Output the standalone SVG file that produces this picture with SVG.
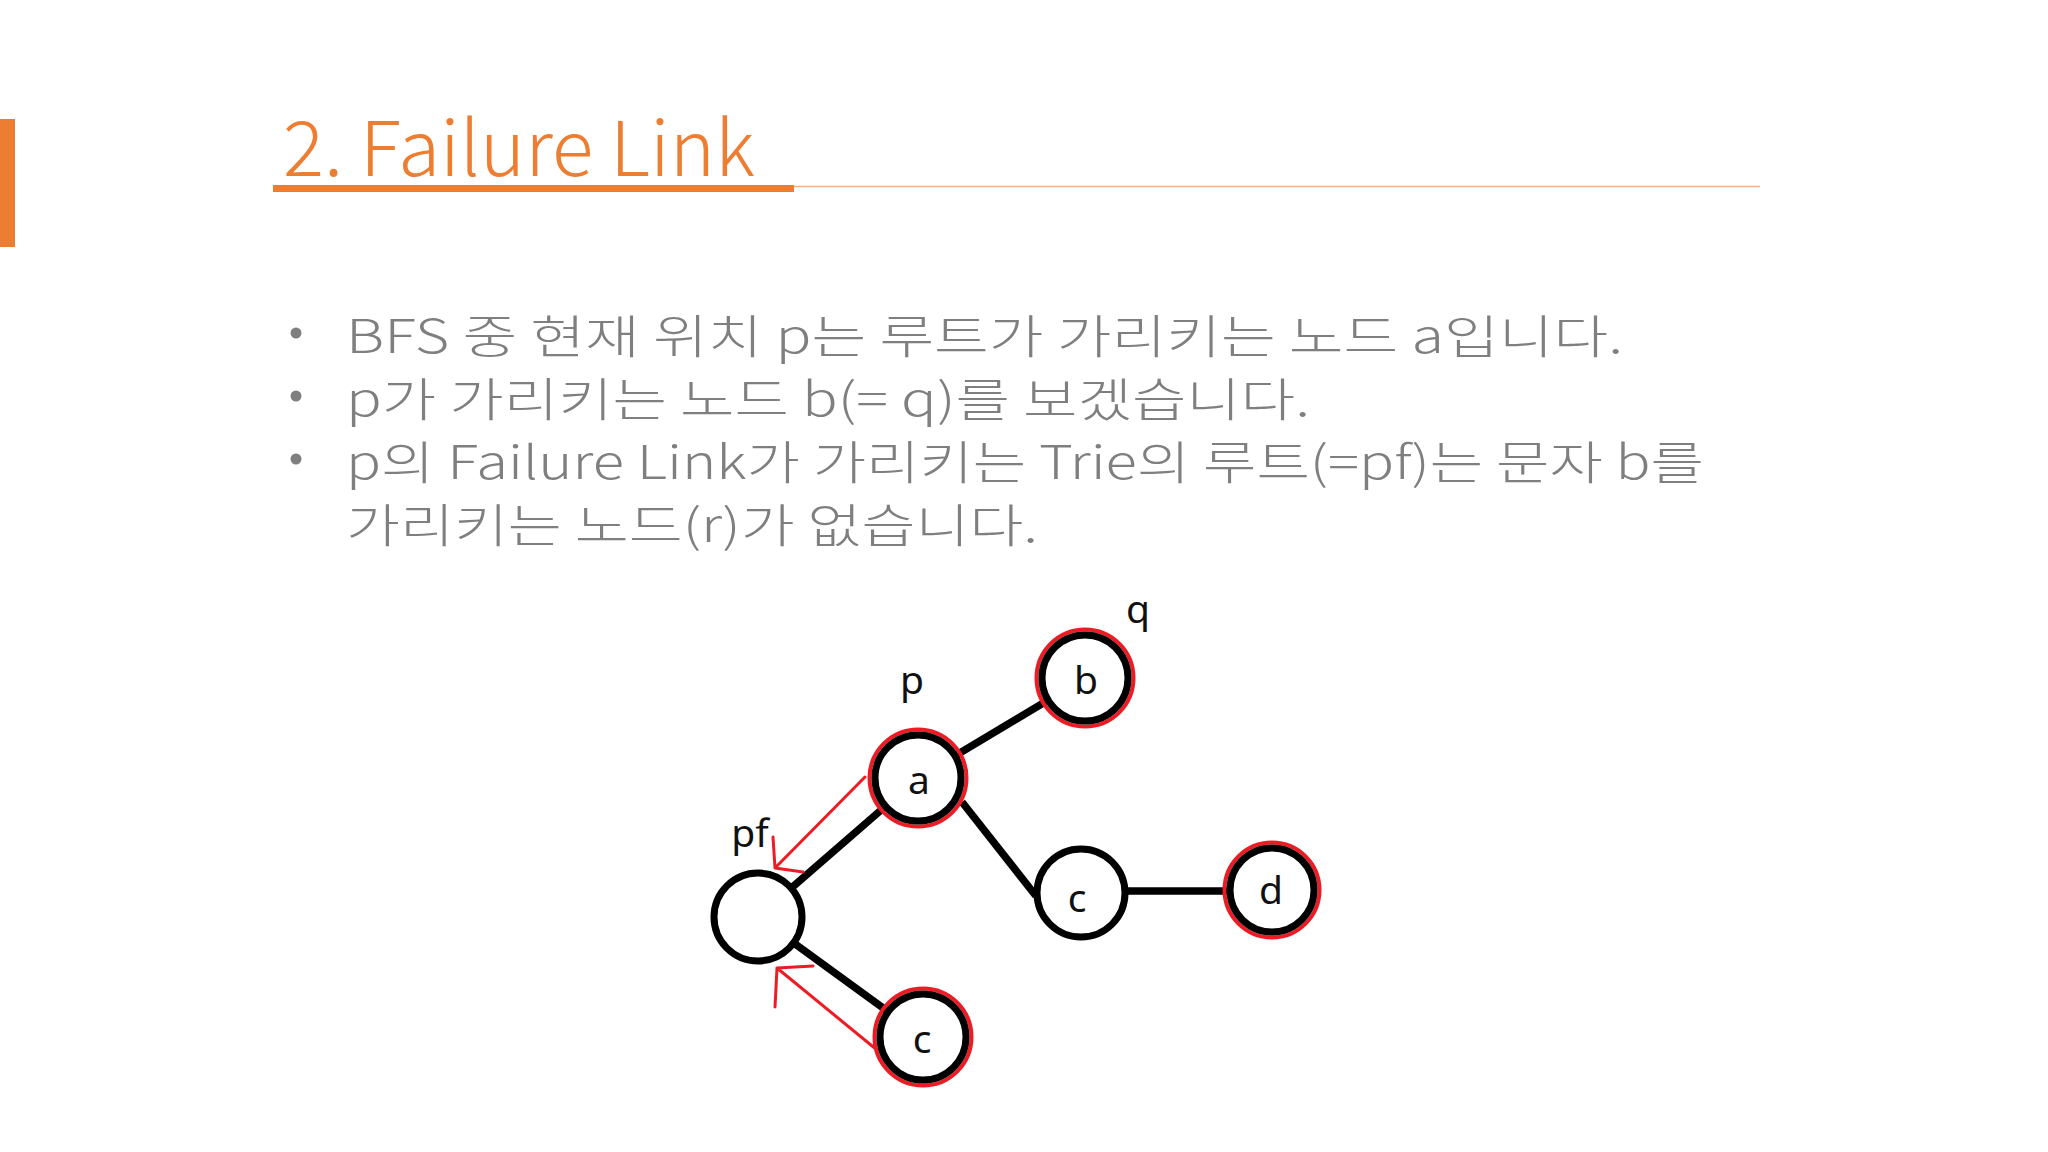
<svg xmlns="http://www.w3.org/2000/svg" width="2048" height="1152" viewBox="0 0 2048 1152">
<style>
.title{font-family:"Noto Sans CJK KR","Liberation Sans",sans-serif;font-size:76px;font-weight:300;fill:#ED7D31}
.body{font-family:"Noto Sans CJK KR","Noto Sans",sans-serif;font-size:46px;font-weight:300;fill:#7F7F7F}
.lbl{font-family:"Noto Sans","Liberation Sans",sans-serif;font-size:39px;fill:#111}
.edge{stroke:#000;stroke-width:7.5;fill:none}
.fail{stroke:#ED1C24;stroke-width:3;fill:none;stroke-linecap:round;stroke-linejoin:round}
.ring{fill:none;stroke:#ED1C24;stroke-width:4}
.circ{fill:#fff;stroke:#000;stroke-width:7}
</style>
<rect width="2048" height="1152" fill="#fff"/>
<g id="header">
<rect x="0" y="119" width="15" height="128" fill="#ED7D31"/>
<text class="title" x="283" y="176" textLength="472" lengthAdjust="spacingAndGlyphs">2. Failure Link</text>
<rect x="273" y="185" width="521" height="7" fill="#ED7D31"/>
<line x1="794" y1="186.5" x2="1760" y2="186.5" stroke="#F2B187" stroke-width="1.5"/>
</g>
<g id="bullets">
<circle cx="296" cy="333" r="5.5" fill="#7F7F7F"/>
<circle cx="296" cy="396" r="5.5" fill="#7F7F7F"/>
<circle cx="296" cy="459" r="5.5" fill="#7F7F7F"/>
<text class="body" x="346" y="353" textLength="1277" lengthAdjust="spacingAndGlyphs">BFS 중 현재 위치 p는 루트가 가리키는 노드 a입니다.</text>
<text class="body" x="346" y="416" textLength="964" lengthAdjust="spacingAndGlyphs">p가 가리키는 노드 b(= q)를 보겠습니다.</text>
<text class="body" x="346" y="479" textLength="1358" lengthAdjust="spacingAndGlyphs">p의 Failure Link가 가리키는 Trie의 루트(=pf)는 문자 b를</text>
<text class="body" x="346" y="542" textLength="692" lengthAdjust="spacingAndGlyphs">가리키는 노드(r)가 없습니다.</text>
</g>
<g id="connectors">
<line class="edge" x1="758" y1="917" x2="918" y2="778"/>
<line class="edge" x1="918" y1="778" x2="1085" y2="678"/>
<line class="edge" x1="962" y1="802" x2="1036" y2="896"/>
<line class="edge" x1="1080" y1="891" x2="1272" y2="891"/>
<line class="edge" x1="758" y1="917" x2="923" y2="1037"/>
<path class="fail" d="M865,777 L775,868 M773,837 L775,868 L803,872"/>
<path class="fail" d="M877,1050 L777,968 L813,966 M777,968 L775,1007"/>
</g>
<g id="node-root">
<circle class="circ" cx="758" cy="917" r="44"/>
<text class="lbl" x="750" y="847" text-anchor="middle">pf</text>
</g>
<g id="node-a">
<circle class="ring" cx="918" cy="778" r="48.5"/>
<circle class="circ" cx="918" cy="778" r="43"/>
<text class="lbl" x="919" y="794" text-anchor="middle">a</text>
<text class="lbl" x="912" y="694" text-anchor="middle">p</text>
</g>
<g id="node-b">
<circle class="ring" cx="1085" cy="678" r="48.5"/>
<circle class="circ" cx="1085" cy="678" r="43"/>
<text class="lbl" x="1086" y="694" text-anchor="middle">b</text>
<text class="lbl" x="1138" y="623" text-anchor="middle">q</text>
</g>
<g id="node-c1">
<circle class="circ" cx="1081" cy="893" r="44"/>
<text class="lbl" x="1077" y="912" text-anchor="middle">c</text>
</g>
<g id="node-d">
<circle class="ring" cx="1272" cy="890" r="47.5"/>
<circle class="circ" cx="1272" cy="890" r="42"/>
<text class="lbl" x="1271" y="904" text-anchor="middle">d</text>
</g>
<g id="node-c2">
<circle class="ring" cx="923" cy="1037" r="48.5"/>
<circle class="circ" cx="923" cy="1037" r="43"/>
<text class="lbl" x="922" y="1053" text-anchor="middle">c</text>
</g>
</svg>
